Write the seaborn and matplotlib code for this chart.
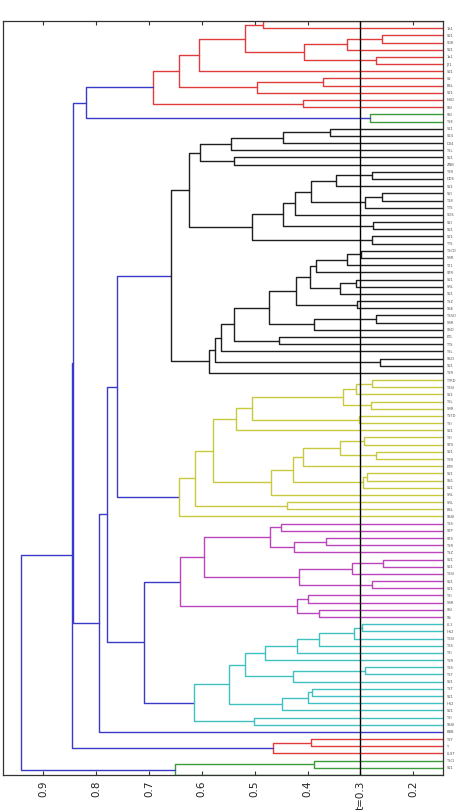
import numpy as np
import pandas as pd
import seaborn as sns
import matplotlib
matplotlib.use("Agg")
import matplotlib.pyplot as plt

# leaf labels (top -> bottom); leaf 0 and leaf 105 sit on the axes edges and carry no label
leaf_labels = ["1S1", "S21", "S08", "S21", "1a1", "J21", "S21", "S2", "BSL", "S21",
               "NSD", "SSI", "SSI", "TSE", "S21", "S24", "D04", "TSL", "S21", "ZNB",
               "TSR", "DDS", "S21", "S2I", "T18", "TTS", "SOS", "S2I", "S21", "S21",
               "TTS", "TSCD", "SRR", "T21", "STR", "S21", "SRL", "S21", "TSZ", "SSE",
               "TSSO", "SRR", "SSD", "ETL", "TTS", "TSL", "SSCI", "S21", "TSR", "TTRD",
               "TSSI", "S21", "TSL", "SRR", "TSTD", "TSI", "S21", "TSI", "SZS", "S21",
               "TSR", "ETR", "S21", "SS1", "S21", "SRL", "SRL", "BSL", "SSSI", "TSS",
               "STP", "STS", "TSR", "TSZ", "S21", "S21", "TSSI", "S21", "S21", "TSI",
               "SRR", "SSI", "SS", "LL1", "HS2", "TSSI", "TSS", "TSI", "TSR", "TSS",
               "TST", "S21", "TST", "S21", "HS2", "S21", "TSI", "SSSI", "BBB", "TST",
               "T", "LLST", "TSCI", "S21"]
n_leaves = 106

# clusters as nested (height, left, right); ints are leaf positions
red_top = (0.693,
           (0.644,
            (0.605, (0.518, (0.485, 0, 1),
                     (0.406, (0.326, (0.259, 2, 3), 4), (0.271, 5, 6))), 7),
            (0.495, (0.370, 8, 9), 10)),
           (0.409, 11, 12))
green_top = (0.282, 13, 14)

black_a = (0.603, (0.544, (0.447, (0.357, 15, 16), 17), 18), (0.540, 19, 20))
black_b = (0.506,
           (0.447,
            (0.424, (0.394, (0.346, (0.278, 21, 22), 23), (0.292, (0.260, 24, 25), 26)), 27),
            (0.276, 28, 29)),
           (0.278, 30, 31))
black_c = (0.586,
           (0.576,
            (0.564,
             (0.540,
              (0.473,
               (0.422,
                (0.395, (0.384, (0.326, (0.2985, 32, 33), 34), 35), (0.338, (0.309, 36, 37), 38)),
                (0.306, 39, 40)),
               (0.387, (0.270, 41, 42), 43)),
              (0.455, 44, 45)),
             46),
            (0.263, 47, 48)),
           49)
black = (0.659, (0.624, black_a, black_b), black_c)

yellow = (0.644,
          (0.612,
           (0.578,
            (0.535,
             (0.506, (0.334, (0.309, (0.278, 50, 51), 52), (0.281, 53, 54)), (0.302, 55, 56)),
             57),
            (0.469,
             (0.428, (0.408, (0.338, (0.293, 58, 59), (0.271, 60, 61)), 62),
              (0.295, (0.287, 63, 64), 65)),
             66)),
           (0.439, 67, 68)),
          69)

magenta = (0.641,
           (0.595,
            (0.471, (0.450, 70, 71), (0.425, (0.365, 72, 73), 74)),
            (0.416, (0.316, (0.258, 75, 76), 77), (0.278, 78, 79))),
           (0.421, (0.400, 80, 81), (0.378, 82, 83)))

cyan = (0.614,
        (0.548,
         (0.519,
          (0.480, (0.421, (0.378, (0.312, (0.298, 84, 85), 86), 87), 88), 89),
          (0.428, (0.292, 90, 91), 92)),
         (0.449, (0.399, (0.391, 93, 94), 95), 96)),
        (0.501, 97, 98))

red_bottom = (0.465, (0.394, 100, 101), 102)
green_bottom = (0.651, (0.387, 103, 104), 105)

# upper (blue) links
tree = (0.942,
        (0.845,
         (0.843,
          (0.819, red_top, green_top),
          (0.794,
           (0.780, (0.761, black, yellow), (0.710, magenta, cyan)),
           99)),
         red_bottom),
        green_bottom)

color_threshold = 0.70
cluster_colors = ["#e03c3c", "#3c9c3c", "#1e1e1e", "#c9c940", "#bb45bb", "#40c0c0"]
link_color = "#3a3ac8"
x_ticks = [0.9, 0.8, 0.7, 0.6, 0.5, 0.4, 0.3, 0.2]
x_tick_labels = ["0.9", "0.8", "0.7", "0.6", "0.5", "0.4", "t=0.3", "0.2"]
cut = 0.3

rows = []
counter = {"cluster": 0, "seg": 0}


def walk(node, color=None):
    if isinstance(node, int):
        return float(node), 0.0
    h, a, b = node
    if color is None and h < color_threshold:
        color = cluster_colors[counter["cluster"] % len(cluster_colors)]
        counter["cluster"] += 1
    ya, ha = walk(a, color)
    yb, hb = walk(b, color)
    c = color if color is not None else link_color
    sid = counter["seg"]
    counter["seg"] += 1
    for xx, yy in [(ha, ya), (h, ya), (h, yb), (hb, yb)]:
        rows.append({"seg": sid, "h": xx, "y": yy, "color": c})
    return (ya + yb) / 2, h


walk(tree)
seg_df = pd.DataFrame(rows)

sns.set_style("ticks")
fig = plt.figure(figsize=(4.58, 8.10), dpi=100)
ax = fig.add_axes([3 / 458, 1 - 775 / 810, 440 / 458, 754 / 810])

palette = {c: c for c in seg_df["color"].unique()}
sns.lineplot(data=seg_df, x="h", y="y", units="seg", hue="color", palette=palette,
             estimator=None, sort=False, legend=False, lw=1.0, ax=ax)

ax.axvline(cut, color="black", lw=1.0, zorder=5)

ax.set_xlim(0.976, 0.144)
ax.set_ylim(n_leaves - 1, 0)
ax.set_xlabel("")
ax.set_ylabel("")

ax.set_xticks(x_ticks)
ax.set_xticklabels(x_tick_labels, rotation=90, fontsize=7.5, color="#222222")
ax.tick_params(axis="x", direction="in", length=3, top=True, bottom=True, pad=4,
               color="#333333")

ax.yaxis.tick_right()
ax.set_yticks(np.arange(1, len(leaf_labels) + 1))
ax.set_yticklabels(leaf_labels, fontsize=2.6, color="#555555")
ax.tick_params(axis="y", length=0, pad=2.5)

for s in ax.spines.values():
    s.set_color("#333333")
    s.set_linewidth(0.9)

fig.savefig("out.png", dpi=100)
